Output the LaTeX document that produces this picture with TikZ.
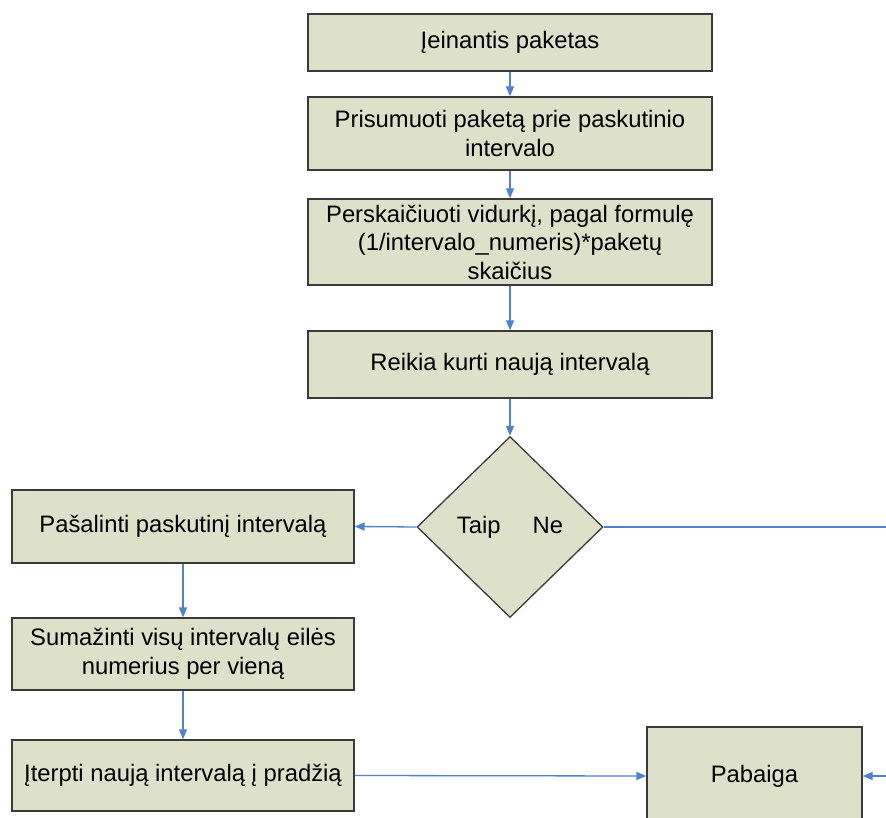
\documentclass[tikz,border=0pt]{standalone}
\usepackage{fontspec}
\setmainfont{Liberation Sans}
\usetikzlibrary{shapes.geometric,arrows.meta}
\definecolor{boxfill}{HTML}{DEE1C9}
\definecolor{boxline}{HTML}{3A3A3A}
\definecolor{flow}{HTML}{4F82CC}
\begin{document}
\begin{tikzpicture}[x=1pt,y=-1pt,
  stepbox/.style={draw=boxline,fill=boxfill,line width=1.3pt,rectangle,
    inner sep=0pt,align=center,font=\fontsize{23.8}{28.5}\selectfont},
  decision/.style={draw=boxline,fill=boxfill,line width=1.3pt,diamond,
    inner sep=0pt,font=\fontsize{23.8}{28.5}\selectfont},
  flowline/.style={draw=flow,line width=1.3pt},
  flowarrow/.style={flowline,-{Triangle[length=10pt,width=8pt]}}]
\clip (0,0) rectangle (886,818);
\fill[white] (0,0) rectangle (886,818);

% main column
\node[stepbox,minimum width=404pt,minimum height=57pt] (in) at (510,42.5) {Įeinantis paketas};
\node[stepbox,minimum width=404pt,minimum height=73pt] (sum) at (510,133.5)
  {Prisumuoti paketą prie paskutinio\\intervalo};
\node[stepbox,minimum width=404pt,minimum height=86pt] (avg) at (510,242)
  {Perskaičiuoti vidurkį, pagal formulę\\(1/intervalo\_numeris)*paketų\\skaičius};
\node[stepbox,minimum width=404pt,minimum height=67pt] (need) at (510,364.5)
  {Reikia kurti naują intervalą};
\node[decision,minimum width=186pt,minimum height=181pt] (dec) at (510,527)
  {Taip\hspace{32pt}Ne};

% left column
\node[stepbox,minimum width=342pt,minimum height=73pt] (rem) at (183,526.5)
  {Pašalinti paskutinį intervalą};
\node[stepbox,minimum width=342pt,minimum height=72pt] (dec1) at (183,654)
  {Sumažinti visų intervalų eilės\\numerius per vieną};
\node[stepbox,minimum width=342pt,minimum height=71pt] (ins) at (183,775.5)
  {Įterpti naują intervalą į pradžią};

% end box
\node[stepbox,minimum width=215pt,minimum height=98pt] (end) at (754.5,776)
  {Pabaiga};

% free ends at the right border
\coordinate (neout) at (890,527);
\coordinate (backin) at (890,776);

% connectors
\draw[flowarrow] (in) -- (sum);
\draw[flowarrow] (sum) -- (avg);
\draw[flowarrow] (avg) -- (need);
\draw[flowarrow] (need) -- (dec);
\draw[flowarrow] (dec.west) -- (rem.east);
\draw[flowarrow] (rem) -- (dec1);
\draw[flowarrow] (dec1) -- (ins);
\draw[flowarrow] (ins.east) -- (end.west);
\draw[flowline] (dec.east) -- (neout);
\draw[flowarrow] (backin) -- (end.east);
\end{tikzpicture}
\end{document}
